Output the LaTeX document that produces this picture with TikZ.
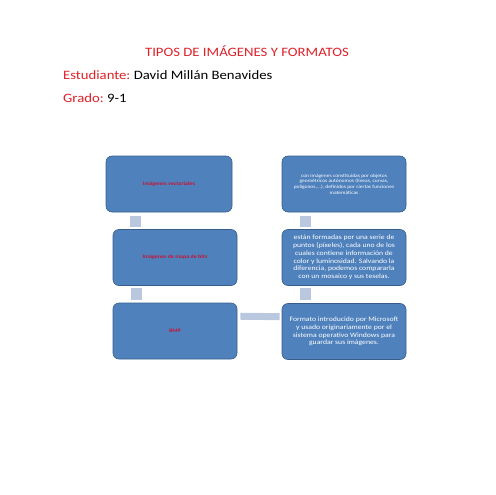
\documentclass[tikz,border=0pt]{standalone}
\usepackage{fontspec}
\setmainfont{Carlito}[FakeStretch=1.15]
\definecolor{boxblue}{RGB}{79,129,189}
\definecolor{boxline}{RGB}{56,93,138}
\definecolor{barblue}{RGB}{185,200,222}
\definecolor{headred}{RGB}{222,32,40}
\definecolor{labelred}{RGB}{200,20,50}
\begin{document}
\begin{tikzpicture}[x=1pt, y=-1pt]
\useasboundingbox (0,0) rectangle (495,495);
% header lines
\node[anchor=center, text=headred, font=\fontsize{12.8}{14}\selectfont] (title) at (247,51) {TIPOS DE IMÁGENES Y FORMATOS};
\node[anchor=west, inner sep=0pt, font=\fontsize{12.8}{14}\selectfont] (student) at (63,75) {\textcolor{headred}{Estudiante:}\hspace{-1pt} David Millán Benavides};
\node[anchor=west, inner sep=0pt, font=\fontsize{12.8}{14}\selectfont] (grade) at (63,98) {\textcolor{headred}{Grado:}\hspace{-1pt} 9-1};
% boxes
\begin{scope}[every node/.style = {rectangle, rounded corners=6pt, draw=boxline, line width=0.6pt, fill=boxblue, minimum width=124pt, minimum height=56pt, align=center, inner sep=1pt}]
\node[minimum width=126pt, text=labelred, font=\bfseries\fontsize{5.2}{6}\selectfont] (vect) at (169,184) {Imágenes vectoriales};
\node[text=white, font=\fontsize{4.8}{5.7}\selectfont] (vectdef) at (344,184) {con imágenes constituidas por objetos\\ geométricos autónomos (líneas, curvas,\\ polígonos,...), definidos por ciertas funciones\\ matemáticas};
\node[text=labelred, font=\bfseries\fontsize{5.2}{6}\selectfont] (bits) at (175,257.5) {Imágenes de mapa de bits};
\node[text=white, font=\fontsize{6.7}{7.8}\selectfont] (bitsdef) at (344,257.5) {están formadas por una serie de\\ puntos (píxeles), cada uno de los\\ cuales contiene información de\\ color y luminosidad. Salvando la\\ diferencia, podemos compararla\\ con un mosaico y sus teselas.};
\node[text=labelred, font=\bfseries\fontsize{5.2}{6}\selectfont] (bmp) at (175,331) {BMP};
\node[text=white, font=\fontsize{6.7}{7.8}\selectfont] (bmpdef) at (344,331.5) {Formato introducido por Microsoft\\ y usado originariamente por el\\ sistema operativo Windows para\\ guardar sus imágenes.};
\end{scope}
% connecting bars
\begin{scope}[every path/.style = {draw=barblue, line width=11.5pt}]
\path[shorten <=4pt, shorten >=2pt] ([xshift=30pt]vect.south west) -- ([xshift=30pt]vect.south west |- bits.north);
\path[shorten <=2pt, shorten >=3pt] ([xshift=24pt]bits.south west) -- ([xshift=24pt]bits.south west |- bmp.north);
\path[shorten <=4pt, shorten >=2pt] ([xshift=24pt]vectdef.south west) -- ([xshift=24pt]vectdef.south west |- bitsdef.north);
\path[shorten <=2pt, shorten >=3pt] ([xshift=24pt]bitsdef.south west) -- ([xshift=24pt]bitsdef.south west |- bmpdef.north);
\path[line width=7pt, shorten <=3pt, shorten >=2pt] ([yshift=-13.5pt]bmp.north east) -- ([yshift=-13.5pt]bmpdef.north west);
\end{scope}
\end{tikzpicture}
\end{document}
